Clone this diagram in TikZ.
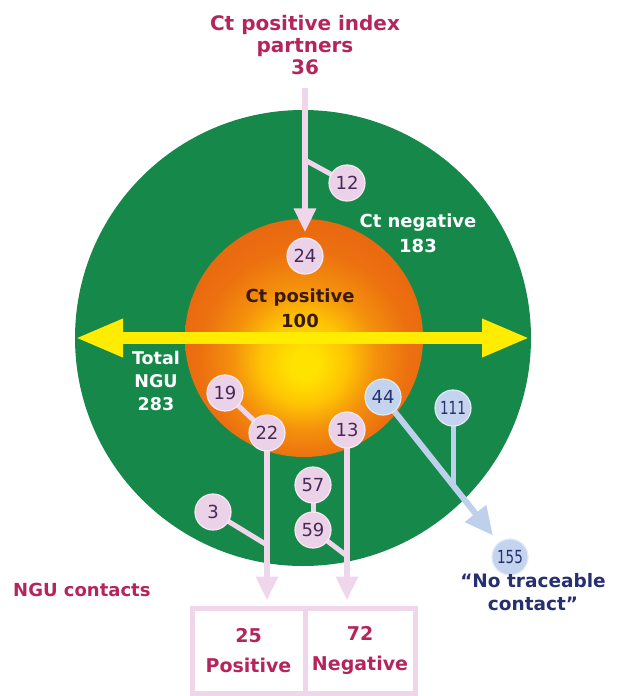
\documentclass[tikz,border=0pt]{standalone}
\usepackage{fontspec}
\usepackage{graphicx}
\setmainfont{DejaVu Sans}
\usetikzlibrary{arrows.meta,calc}
\definecolor{ngreen}{RGB}{22,137,74}
\definecolor{sunyel}{RGB}{255,226,0}
\definecolor{sunyel2}{RGB}{254,196,4}
\definecolor{sunmid}{RGB}{244,145,12}
\definecolor{sunor}{RGB}{236,112,16}
\definecolor{sunred}{RGB}{230,96,14}
\definecolor{ylw}{RGB}{255,236,0}
\definecolor{pinkfill}{RGB}{236,210,232}
\definecolor{pinkline}{RGB}{240,214,234}
\definecolor{bluefill}{RGB}{196,212,238}
\definecolor{blueline}{RGB}{190,208,236}
\definecolor{numtxt}{RGB}{72,40,84}
\definecolor{navy}{RGB}{38,48,112}
\definecolor{crimson}{RGB}{182,36,92}
\definecolor{darktxt}{RGB}{58,26,12}
\pgfdeclareradialshading{sun}{\pgfpoint{0bp}{-6bp}}{color(0bp)=(sunyel); color(3bp)=(sunyel); color(9bp)=(sunyel2); color(15bp)=(sunmid); color(22bp)=(sunor); color(34bp)=(sunred); color(50bp)=(sunred)}
\pgfdeclarelayer{bg}\pgfdeclarelayer{mid}\pgfsetlayers{bg,mid,main}
\begin{document}
\begin{tikzpicture}[x=1pt,y=-1pt,
 lbl/.style={font=\bfseries\fontsize{18}{25}\selectfont, align=center, inner sep=0pt},
 pinkc/.style={circle, fill=pinkfill, draw=pinkline!50!white, line width=1.2pt, minimum size=36pt, inner sep=0pt, text=numtxt, font=\fontsize{18}{18}\selectfont},
 bluec/.style={pinkc, fill=bluefill, draw=bluefill!50!white, text=navy},
 pinkln/.style={draw=pinkline, line width=5pt},
 pinkarr/.style={draw=pinkline, line width=6pt, -{Triangle[length=24pt,width=21pt]}},
 bluearr/.style={draw=blueline, line width=6pt, -{Triangle[length=28pt,width=26pt]}},
 blueln/.style={draw=blueline, line width=5pt},
 cell/.style={rectangle, draw=pinkline, line width=5pt, minimum height=85pt, inner sep=0pt, align=center, text=crimson, font=\bfseries\fontsize{19}{30}\selectfont}
]
\useasboundingbox (0,0) rectangle (616,696);
% circles with numbers
\node[pinkc] (c12) at (347,183) {12};
\node[pinkc] (c24) at (305,256) {24};
\node[pinkc] (c19) at (225,393) {19};
\node[pinkc] (c22) at (267,433) {22};
\node[pinkc] (c3) at (213,512) {3};
\node[pinkc] (c13) at (347,430) {13};
\node[pinkc] (c57) at (313,485) {57};
\node[pinkc] (c59) at (313,530) {59};
\node[bluec] (c44) at (383,397) {44};
\node[bluec] (c111) at (453,408) {\scalebox{0.75}[1]{111}};
\node[bluec] (c155) at (510,557) {\scalebox{0.75}[1]{155}};
% boxes
\node[cell, minimum width=113pt] (boxL) at (248.5,650.5) {25\\Positive};
\node[cell, minimum width=110pt] (boxR) at (360,650.5) {72\\Negative};
% labels
\node[lbl, text=crimson, font=\bfseries\fontsize{20}{22}\selectfont] (title) at (305,45) {Ct positive index\\partners\\36};
\node[lbl, text=white] (neg) at (418,233) {Ct negative\\183};
\node[lbl, text=darktxt] (pos) at (300,308) {Ct positive\\100};
\node[lbl, text=white, font=\bfseries\fontsize{17.5}{23}\selectfont] (tot) at (156,381) {Total\\NGU\\283};
\node[lbl, text=crimson, anchor=west] (ngu) at (13,590) {NGU contacts};
\node[lbl, text=navy, font=\bfseries\fontsize{18.5}{23}\selectfont] (ntc) at (533,592) {“No traceable\\contact”};
% coordinates
\coordinate (top) at (305,88);
\coordinate (j12) at (305,160);
\coordinate (j3) at (267,545);
\coordinate (j59) at (347,556);
\coordinate (j111) at (453,485);
\coordinate (yl) at (75,338);
\coordinate (yr) at (530,338);
\begin{pgfonlayer}{bg}
\fill[ngreen] (303,338) circle[radius=228pt];
\shade[shading=sun] (304,338) circle[radius=119pt];
\draw[ylw, line width=12pt, {Triangle[length=48pt,width=35pt]}-{Triangle[length=48pt,width=35pt]}] (yl) -- (yr);
\end{pgfonlayer}
\begin{pgfonlayer}{mid}
\draw[pinkarr, shorten >=5pt] (top) -- (c24.north);
\draw[pinkln] (c12.center) -- (j12);
\draw[pinkln] (c19.center) -- (c22.center);
\draw[pinkarr, shorten >=5pt] (c22.center) -- (c22 |- boxL.north);
\draw[pinkln] (c3.center) -- (j3);
\draw[pinkln] (c57.center) -- (c59.center);
\draw[pinkln] (c59.center) -- (j59);
\draw[pinkarr, shorten >=5pt] (c13.center) -- (c13 |- boxR.north);
\draw[blueln] (c111.center) -- (j111);
\draw[bluearr, shorten >=9pt] (c44.center) -- (c155);
\end{pgfonlayer}
\end{tikzpicture}
\end{document}
